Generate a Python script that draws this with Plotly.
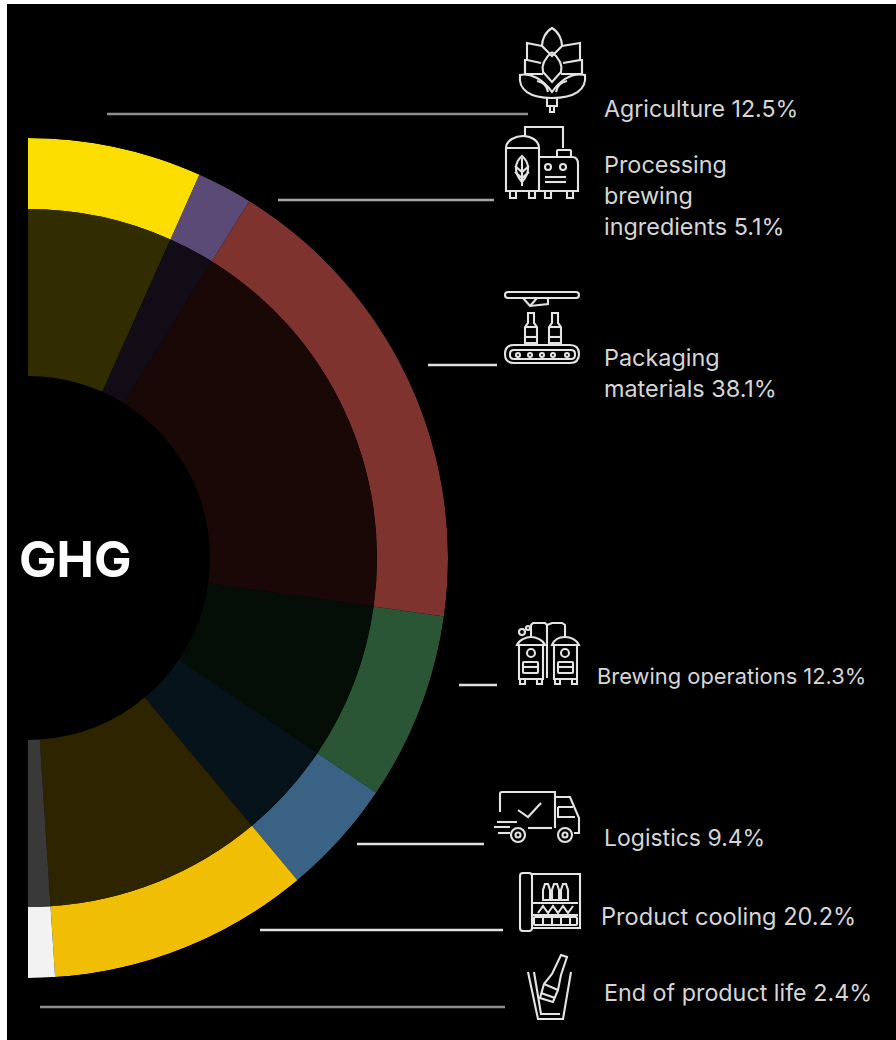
import numpy as np
import plotly.graph_objects as go

# ---- data ----
category_lines = [["Agriculture"], ["Processing", "brewing", "ingredients"], ["Packaging", "materials"],
                  ["Brewing operations"], ["Logistics"], ["Product cooling"], ["End of product life"]]
share_pct = [12.5, 5.1, 38.1, 12.3, 9.4, 20.2, 2.4]
sector_span_deg = [24.1, 7.7, 66.2, 26.0, 16.1, 36.2, 3.7]
outer_colors = ["#FBDD00", "#5B4A75", "#7E332E", "#2B5635", "#3A6284", "#F0BE04", "#F2F2F2"]
inner_colors = ["#322D00", "#110C16", "#190805", "#040E06", "#07131A", "#2E2400", "#393939"]

# ---- layout of the annotations (page pixels) ----
LABEL_POS = [[(604, 109)], [(604, 164), (604, 195), (604, 226)], [(604, 357), (604, 388)],
             [(597, 676)], [(604, 838)], [(601, 916)], [(604, 992)]]
LABEL_SIZE = [23.2, 23.4, 23.4, 21.9, 23.0, 23.6, 23.3]
LEADERS = [(107, 528, 114, "#8E8E8E"), (278, 494, 200, "#A8A8A8"), (428, 497, 365, "#E0E0E0"),
           (459, 497, 685, "#E0E0E0"), (357, 484, 844, "#E0E0E0"), (260, 503, 930, "#E0E0E0"),
           (40, 505, 1007, "#8E8E8E")]

W, H = 896, 1040
CX, CY, R_OUT, R_MID, R_IN = 28, 558, 420, 349, 182


def circle(x, y, r):
    k = 0.5523 * r
    return (f"M{x-r},{y} C{x-r},{y-k} {x-k},{y-r} {x},{y-r} C{x+k},{y-r} {x+r},{y-k} {x+r},{y} "
            f"C{x+r},{y+k} {x+k},{y+r} {x},{y+r} C{x-k},{y+r} {x-r},{y+k} {x-r},{y} Z")


def rrect(x0, y0, x1, y1, r=2):
    return (f"M{x0+r},{y0} L{x1-r},{y0} Q{x1},{y0} {x1},{y0+r} L{x1},{y1-r} Q{x1},{y1} {x1-r},{y1} "
            f"L{x0+r},{y1} Q{x0},{y1} {x0},{y1-r} L{x0},{y0+r} Q{x0},{y0} {x0+r},{y0} Z")


def bottle(cx, top, bottom):
    return (f"M{cx-3},{top} L{cx+3},{top} L{cx+3},{top+10} L{cx+6},{top+14} L{cx+6},{bottom} "
            f"L{cx-6},{bottom} L{cx-6},{top+14} L{cx-3},{top+10} Z")


icon_hop = [
    "M552,28 C545,32 542,40 542,46 L552,56 L562,46 C562,40 559,32 552,28 Z",
    "M552,52 C545,58 541,64 543,72 L552,82 L561,72 C563,64 559,58 552,52",
    "M542,46 L527,43 L527,60 L541,63", "M562,46 L580,43 L580,60 L563,63",
    "M527,60 L525,60 L525,74", "M580,60 L582,60 L582,74",
    "M525,60 L525,74 L543,74", "M582,60 L582,74 L561,74",
    "M520,75 C530,73 542,78 552,92 C562,78 574,73 585,75 C587,90 574,98 552,98 C530,98 518,90 520,75 Z",
    "M537,81 C543,82 547,86 548,92", "M567,81 C561,82 557,86 556,92",
    "M547,98 L547,106 L557,106 L557,98", "M550,106 L550,112 L554,112 L554,106",
]
icon_tank = [
    "M506,191 L506,148 C506,140 516,136 523,136 C530,136 539,140 539,148 L539,191 Z",
    "M506,148 L539,148", "M525,136 L525,127 L563,127 L563,148",
    "M539,157 L572,157 C576,157 578,160 578,164 L578,191 L539,191",
    rrect(557, 150, 571, 157, 1),
    circle(548, 167, 3), circle(563, 167, 3),
    "M545,177 L566,177", "M545,182 L566,182",
    "M522,156 C515,162 513,172 522,182 C531,172 529,162 522,156 Z", "M522,158 L522,186",
    "M515,166 L522,172 L529,166", "M515,172 L522,178 L529,172",
    "M510,191 L510,198 L516,198 L516,191", "M529,191 L529,198 L535,198 L535,191",
    "M545,191 L545,198 L551,198 L551,191", "M567,191 L567,198 L573,198 L573,191",
]
icon_belt = [
    rrect(505, 292, 579, 298, 3),
    "M523,298 L530,306 L548,304 L548,298", "M530,306 L537,298",
    bottle(531, 313, 343), bottle(555, 313, 343),
    "M525,327 L537,327", "M549,327 L561,327", "M525,337 L537,337", "M549,337 L561,337",
    rrect(505, 345, 579, 363, 9), rrect(510, 350, 575, 359, 4),
    circle(518, 355, 2), circle(530, 355, 2), circle(542, 355, 2), circle(553, 355, 2), circle(567, 355, 2),
]
icon_brew = [
    "M517,645 C519,640 526,637 531,637 C536,637 543,640 545,645 Z",
    "M552,645 C554,640 559,637 565,637 C571,637 577,640 579,645 Z",
    "M519,645 L519,679 L543,679 L543,645", "M554,645 L554,679 L577,679 L577,645",
    circle(531, 653, 4), circle(565, 653, 4),
    rrect(523, 662, 538, 673, 1), rrect(558, 662, 573, 673, 1), "M523,667 L538,667", "M558,667 L573,667",
    "M520,679 L520,684 L525,684 L525,679", "M537,679 L537,684 L542,684 L542,679",
    "M555,679 L555,684 L560,684 L560,679", "M572,679 L572,684 L577,684 L577,679",
    "M531,637 L531,625 L533,623 L545,623 L547,625 L552,623 L562,623 L565,625 L565,637",
    "M547,625 L547,678", circle(522, 632, 3), circle(528, 628, 2),
]
icon_truck = [
    "M500,812 L500,794 Q500,792 502,792 L555,792 L555,828", "M528,828 L552,828",
    "M518,810 L528,817 L541,803",
    "M555,797 L570,797 L579,818 L579,833 L574,833", "M558,807 L573,807 M558,807 L558,817 L575,817",
    circle(518, 835, 7), circle(565, 835, 7), circle(518, 835, 2.5), circle(565, 835, 2.5),
    "M497,822 L517,822", "M494,827 L510,827", "M498,833 L510,833",
]
icon_cool = [
    rrect(520, 873, 532, 931, 3), "M532,874 L580,874 L580,928 L532,928",
    "M543,900 L543,890 L545,884 L548,884 L550,890 L550,900 Z",
    "M552,900 L552,890 L554,884 L557,884 L559,890 L559,900 Z",
    "M561,900 L561,890 L563,884 L566,884 L568,890 L568,900 Z",
    "M533,903 L578,903", "M533,915 L578,915",
    "M538,913 L543,906 L548,913 L553,906 L558,913 L563,906 L568,913 L573,906",
    rrect(534, 917, 577, 925, 1), "M543,917 L543,925 M552,917 L552,925 M561,917 L561,925 M570,917 L570,925",
]
icon_bucket = [
    "M528,972 L538,1019 L563,1019 L571,972", "M534,972 L541,1014 L560,1014",
    "M561,955 L567,957 L561,975 L558,990 L553,1002 L540,998 L544,984 L552,974 Z",
    "M544,984 L558,990", "M541,993 L555,998",
]
icons = icon_hop + icon_tank + icon_belt + icon_brew + icon_truck + icon_cool + icon_bucket

# ---- figure ----
spans = np.array(sector_span_deg)
theta_centers = np.cumsum(spans) - spans / 2
fig = go.Figure()
fig.add_trace(go.Barpolar(theta=theta_centers, width=spans, base=[R_MID] * 7, r=[R_OUT - R_MID] * 7,
                          marker=dict(color=outer_colors, line=dict(width=0)), hoverinfo="skip"))
fig.add_trace(go.Barpolar(theta=theta_centers, width=spans, base=[R_IN] * 7, r=[R_MID - R_IN] * 7,
                          marker=dict(color=inner_colors, line=dict(width=0)), hoverinfo="skip"))

for x0, x1, y, c in LEADERS:
    fig.add_trace(go.Scatter(x=[x0, x1], y=[y, y], mode="lines", line=dict(color=c, width=2.5),
                             hoverinfo="skip", showlegend=False))

shapes = [
    dict(type="rect", xref="x", yref="y", x0=0, x1=7, y0=0, y1=H, fillcolor="white", line_width=0),
    dict(type="rect", xref="x", yref="y", x0=0, x1=W, y0=0, y1=4, fillcolor="white", line_width=0),
]
for p in icons:
    shapes.append(dict(type="path", xref="x", yref="y", path=p, line=dict(color="#E4E4E4", width=2.1)))

annotations = []
for lines, pct, positions, size in zip(category_lines, share_pct, LABEL_POS, LABEL_SIZE):
    texts = lines[:-1] + [f"{lines[-1]} {pct}%"]
    for t, (x, y) in zip(texts, positions):
        annotations.append(dict(x=x, y=y, text=t, xref="x", yref="y", xanchor="left", yanchor="middle",
                                showarrow=False, xshift=-2,
                                font=dict(family="Inter", size=size, color="#D6D6D6")))
annotations.append(dict(x=19, y=559, text="<b>GHG</b>", xref="x", yref="y", xanchor="left", yanchor="middle",
                        showarrow=False, xshift=-2, font=dict(family="Inter", size=50, color="#FFFFFF")))

fig.update_layout(
    width=W, height=H, margin=dict(l=0, r=0, t=0, b=0), showlegend=False,
    paper_bgcolor="#000000", plot_bgcolor="#000000",
    xaxis=dict(range=[0, W], visible=False, domain=[0, 1], fixedrange=True),
    yaxis=dict(range=[H, 0], visible=False, domain=[0, 1], fixedrange=True),
    polar=dict(
        domain=dict(x=[CX / W, (CX + R_OUT) / W], y=[(H - CY - R_OUT) / H, (H - CY + R_OUT) / H]),
        sector=[-90, 90], bgcolor="rgba(0,0,0,0)",
        radialaxis=dict(range=[0, R_OUT], visible=False),
        angularaxis=dict(rotation=90, direction="clockwise", visible=False),
    ),
    shapes=shapes, annotations=annotations,
)
fig.write_html("out.html", config=dict(displayModeBar=False),
               post_script="document.body.style.margin='0';document.body.style.overflow='hidden';")
